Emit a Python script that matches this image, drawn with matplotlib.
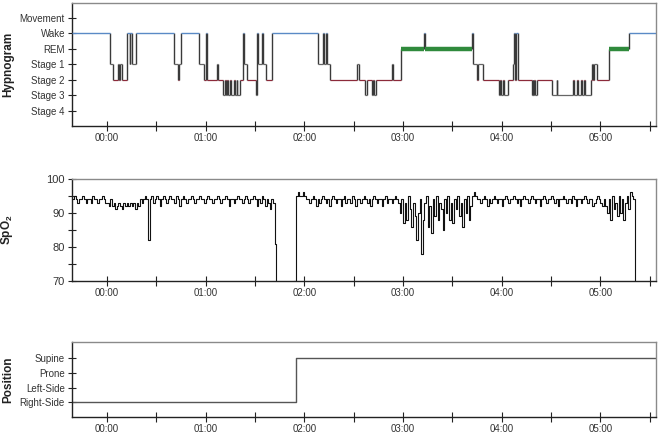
import numpy as np
import matplotlib
matplotlib.use("Agg")
import matplotlib.pyplot as plt
from matplotlib.ticker import FixedLocator, FuncFormatter

plt.rcParams['font.family'] = ['Liberation Sans', 'DejaVu Sans']
plt.rcParams['mathtext.fontset'] = 'custom'
plt.rcParams['mathtext.rm'] = 'Liberation Sans'
plt.rcParams['mathtext.bf'] = 'Liberation Sans:bold'

# time axis in minutes relative to 00:00
t_start = -21.3
t_end = 333.8

# Hypnogram: start time of each epoch run and its stage
hyp_t = [-21.3, 1.8, 3.5, 6.7, 7.6, 8.2, 9.1, 12.3, 13.7, 14.2, 15.0, 17.4,
         40.7, 43.2, 43.8, 45.0, 56.1, 58.7, 60.2, 60.6, 66.7, 67.5,
         70.7, 71.7, 72.3, 73.0, 73.6, 74.5, 75.1, 77.2, 77.8, 78.8, 79.3, 80.8,
         82.5, 83.3, 84.9, 90.4, 91.2, 91.8, 94.2, 94.7, 96.7, 100.1,
         128.4, 131.5, 131.9, 133.1, 133.5, 135.6, 151.8, 153.0, 156.8, 158.0,
         161.4, 162.0, 162.6, 163.5, 173.1, 174.0, 178.5, 192.7, 193.1,
         222.0, 222.4, 224.7, 225.3, 228.7, 238.5, 239.2, 239.8, 240.7, 241.3,
         243.5, 247.0, 247.7, 248.3, 248.8, 249.6, 258.2, 258.8, 259.3, 259.9,
         260.5, 261.2, 270.3, 273.3, 273.5, 283.3, 283.9, 285.5, 286.1, 288.1,
         288.8, 289.8, 290.4, 294.2, 295.0, 295.6, 296.0, 297.7, 305.3, 317.3]
hyp_stage = ['W', 'S1', 'S2', 'S1', 'S2', 'S1', 'S2', 'W', 'S1', 'W', 'S1', 'W',
             'S1', 'S2', 'S1', 'W', 'S1', 'S2', 'W', 'S2', 'S1', 'S2',
             'S3', 'S2', 'S3', 'S2', 'S3', 'S2', 'S3', 'S2', 'S3', 'S2', 'S3', 'S2',
             'W', 'S1', 'S2', 'S3', 'W', 'S1', 'W', 'S1', 'S2', 'W',
             'S1', 'W', 'S1', 'W', 'S1', 'S2', 'S1', 'S2', 'S3', 'S2',
             'S3', 'S2', 'S3', 'S2', 'S1', 'S2', 'REM', 'W', 'REM',
             'W', 'S1', 'S2', 'S1', 'S2', 'S3', 'S2', 'S3', 'S2', 'S3',
             'S2', 'S1', 'W', 'S2', 'W', 'S2', 'S3', 'S2', 'S3', 'S2',
             'S3', 'S2', 'S3', 'S2', 'S3', 'S2', 'S3', 'S2', 'S3', 'S2',
             'S3', 'S2', 'S3', 'S2', 'S1', 'S2', 'S1', 'S2', 'REM', 'W']
hyp_labels = ['Stage 4', 'Stage 3', 'Stage 2', 'Stage 1', 'REM', 'Wake', 'Movement']
stage_level = {'S4': 0, 'S3': 1, 'S2': 2, 'S1': 3, 'REM': 4, 'W': 5, 'MT': 6}

# SpO2 (%), one value per minute, two recorded segments
spo2_step = 1
spo2_start_a = -21
spo2_a = [94, 95, 94, 93, 94, 94, 95, 94, 93, 94, 94, 93, 95, 94, 94, 93, 94, 94, 95, 94, 93,
          93, 92, 94, 92, 93, 91, 92, 93, 92, 91, 93, 92, 93, 92,
          93, 92, 93, 91, 93, 92,
          94, 93, 94, 95, 94,
          82,
          94, 95, 93, 94, 95, 94, 92, 94, 95, 94,
          93, 94, 95, 94, 94, 93, 95, 94, 92, 94,
          95, 94, 93, 94, 94, 95, 94, 93, 94, 94,
          95, 94, 94, 93, 94, 95, 94, 94, 93, 94,
          94, 95, 94, 93, 94, 94, 95, 94, 92, 94,
          94, 93, 94, 95, 94, 94, 93, 94, 95, 94,
          93, 94, 94, 95, 94, 92, 94, 93, 95, 94,
          92, 94, 93, 91, 94, 93,
          81, 70]
spo2_start_b = 114
spo2_b = [70,
          95, 96, 95, 95, 96, 95,
          94, 94, 93, 94, 95, 94, 92, 94, 93, 94,
          95, 94, 93, 94, 92, 94, 95, 94, 93, 94,
          94, 92, 94, 95, 93, 94, 94, 93, 95, 94,
          92, 94, 94, 93, 94, 95, 94, 93, 94, 92,
          94, 95, 94, 93, 94, 94, 92, 94, 95, 93,
          94, 94, 93, 94, 95, 94, 93,
          90, 94, 87, 93, 88, 95, 91, 86, 93, 89,
          82, 90, 94, 78, 88, 93, 95, 86, 92, 84,
          94, 89, 95, 88, 93, 91, 85, 94, 90, 95,
          88, 93, 87, 94, 91, 95, 89, 93, 86, 94,
          90, 95, 88, 92, 95,
          96, 95, 94, 94, 93, 94, 95, 94, 92, 94,
          93, 94, 95, 94, 93, 94, 94, 92, 94, 95,
          94, 93, 94, 94, 95, 94, 93, 94, 92, 94,
          95, 94, 94, 93, 94, 95, 94, 93, 94, 94,
          92, 94, 95, 94, 93, 94, 94, 95, 94, 93,
          94, 92, 94, 94, 95, 94, 93, 94, 94, 93,
          95, 94, 92, 94, 94, 93, 94, 95, 94, 93,
          94, 94, 92, 93, 94, 95, 94, 93, 92, 94,
          92, 90, 94, 88, 95, 91, 93, 89, 95, 90, 94, 88, 93, 95, 91, 96, 95, 94,
          70]

# Body position
pos_t = [t_start, 114.9, t_end]
pos_state = ['Right-Side', 'Supine', 'Supine']
pos_labels = ['Right-Side', 'Left-Side', 'Prone', 'Supine']

hour_ticks = [0, 60, 120, 180, 240, 300]
half_ticks = [30, 90, 150, 210, 270, 330]

label_col = '#333333'
fs = 7


def style_axes(ax):
    ax.set_xlim(t_start, t_end)
    ax.xaxis.set_major_locator(FixedLocator(hour_ticks))
    ax.xaxis.set_minor_locator(FixedLocator(half_ticks))
    ax.xaxis.set_major_formatter(FuncFormatter(lambda v, p: f"{int(v // 60) % 24:02d}:00"))
    ax.tick_params(axis='x', which='both', direction='inout', length=7, width=0.8,
                   color='#222222', labelsize=fs, labelcolor=label_col, pad=1.5)
    ax.tick_params(axis='y', which='both', direction='inout', length=6, width=0.8,
                   color='#222222', labelsize=fs, labelcolor=label_col, pad=2)
    for side in ['top', 'right']:
        ax.spines[side].set_color('#8a8a8a')
        ax.spines[side].set_linewidth(1.0)
    for side in ['left', 'bottom']:
        ax.spines[side].set_color('#222222')
        ax.spines[side].set_linewidth(1.0)
    ax.yaxis.set_label_coords(-0.098, 0.5)


fig = plt.figure(figsize=(6.6, 4.33), dpi=100)
ax1 = fig.add_axes([0.109, 0.709, 0.885, 0.284])
ax2 = fig.add_axes([0.109, 0.351, 0.885, 0.236])
ax3 = fig.add_axes([0.109, 0.037, 0.885, 0.173])

# --- Hypnogram
levels = [stage_level[s] for s in hyp_stage]
ends = hyp_t[1:] + [t_end]
seg_style = {'W': ('#5a8ac6', 1.0), 'REM': ('#2f8a3c', 3.2), 'S2': ('#8c2a3a', 0.9),
             'S1': ('#666666', 0.9), 'S3': ('#666666', 0.9)}
for i, s in enumerate(hyp_stage):
    col, lw = seg_style[s]
    ax1.hlines(levels[i], hyp_t[i], ends[i], colors=col, linewidth=lw, zorder=3)
for i in range(1, len(levels)):
    ax1.vlines(hyp_t[i], min(levels[i - 1], levels[i]), max(levels[i - 1], levels[i]),
               colors='#3a3a3a', linewidth=1.0, zorder=2)
ax1.set_ylim(-1, 6.97)
ax1.set_yticks(range(7))
ax1.set_yticklabels(hyp_labels)
ax1.set_ylabel('Hypnogram', fontsize=8.5, fontweight='bold', color='#222222')
style_axes(ax1)

# --- SpO2
ta = spo2_start_a + spo2_step * np.arange(len(spo2_a))
tb = spo2_start_b + spo2_step * np.arange(len(spo2_b))
ax2.plot(ta, spo2_a, drawstyle='steps-post', color='#111111', linewidth=0.8)
ax2.plot(tb, spo2_b, drawstyle='steps-post', color='#111111', linewidth=0.8)
ax2.set_ylim(70, 100)
ax2.set_yticks([70, 80, 90, 100])
ax2.set_yticks([75, 85, 95], minor=True)
ax2.set_ylabel(r'SpO$_\mathbf{2}$', fontsize=8.5, fontweight='bold', color='#222222')
style_axes(ax2)
ax2.tick_params(axis='y', labelsize=8)

# --- Position
pos_level = [pos_labels.index(p) for p in pos_state]
ax3.plot(pos_t, pos_level, drawstyle='steps-post', color='#555555', linewidth=1.0)
ax3.set_ylim(-1, 4.1)
ax3.set_yticks(range(4))
ax3.set_yticklabels(pos_labels)
ax3.set_ylabel('Position', fontsize=8.5, fontweight='bold', color='#222222')
style_axes(ax3)

fig.savefig('out.png', dpi=100)
